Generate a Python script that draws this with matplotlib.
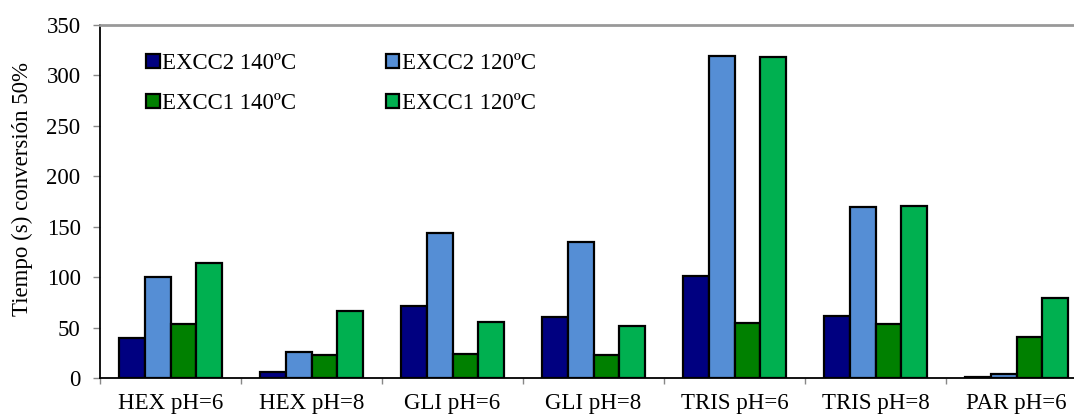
import matplotlib
matplotlib.use("Agg")
import matplotlib.pyplot as plt
import numpy as np

plt.rcParams['font.family'] = ['Liberation Serif', 'DejaVu Serif']

# Time to reach 50% conversion for each buffer / pH
categories = ["HEX pH=6", "HEX pH=8", "GLI pH=6", "GLI pH=8",
              "TRIS pH=6", "TRIS pH=8", "PAR pH=6"]
series_names = ["EXCC2 140ºC", "EXCC2 120ºC", "EXCC1 140ºC", "EXCC1 120ºC"]
excc2_140 = [40, 6, 71, 60, 101, 61, 0.7]
excc2_120 = [100, 26, 144, 135, 319, 170, 3.5]
excc1_140 = [54, 23, 24, 23, 55, 54, 41]
excc1_120 = [114, 66, 56, 52, 318, 171, 79]
series_values = [excc2_140, excc2_120, excc1_140, excc1_120]
colors = ["#000080", "#558ED5", "#008000", "#00B050"]
y_ticks = [0, 50, 100, 150, 200, 250, 300, 350]

FS = 16.5
W, H = 1074, 415
fig = plt.figure(figsize=(W / 100, H / 100), dpi=100)
left, right, bottom, top = 100, 1087, 378, 25
ax = fig.add_axes([left / W, 1 - bottom / H, (right - left) / W, (bottom - top) / H])

x = np.arange(len(categories))
n = len(series_values)
bw = 1 / (n + 1.5)
for i, (vals, name, c) in enumerate(zip(series_values, series_names, colors)):
    offs = (i - (n - 1) / 2) * bw
    ax.bar(x + offs, vals, width=bw, color=c, edgecolor="black",
           linewidth=1.6, label=name, zorder=3)

ax.set_xlim(-0.5, len(categories) - 0.5)
ax.set_ylim(0, 350)
ax.set_yticks(y_ticks)
ax.set_xticks(x)
ax.set_xticklabels(categories)
ax.set_xticks(np.arange(-0.5, len(categories)), minor=True)

ax.tick_params(axis="y", direction="out", length=5, width=1, color="#888888",
               labelsize=FS, pad=9)
ax.tick_params(axis="x", which="major", length=0, labelsize=FS, pad=11)
ax.tick_params(axis="x", which="minor", direction="out", length=4, width=1,
               color="#888888")

ax.spines["right"].set_visible(False)
ax.spines["top"].set_color("#999999")
ax.spines["top"].set_linewidth(2)
ax.spines["left"].set_color("black")
ax.spines["left"].set_linewidth(1.3)
ax.spines["bottom"].set_color("black")
ax.spines["bottom"].set_linewidth(1.3)
ax.spines["bottom"].set_zorder(4)

fig.text(22 / W, 1 - 189 / H, "Tiempo (s) conversión 50%", rotation=90,
         ha="center", va="center", fontsize=FS)

handles, labels = ax.get_legend_handles_labels()
order = [0, 2, 1, 3]
leg = fig.legend([handles[k] for k in order], [labels[k] for k in order],
                 ncol=2, frameon=False, fontsize=FS, loc="upper left",
                 bbox_to_anchor=(146 / W, 1 - 53 / H), borderpad=0,
                 handlelength=0.6, handleheight=0.6, handletextpad=0.1,
                 columnspacing=3.9, labelspacing=0.83, borderaxespad=0)

fig.savefig("out.png", dpi=100)
